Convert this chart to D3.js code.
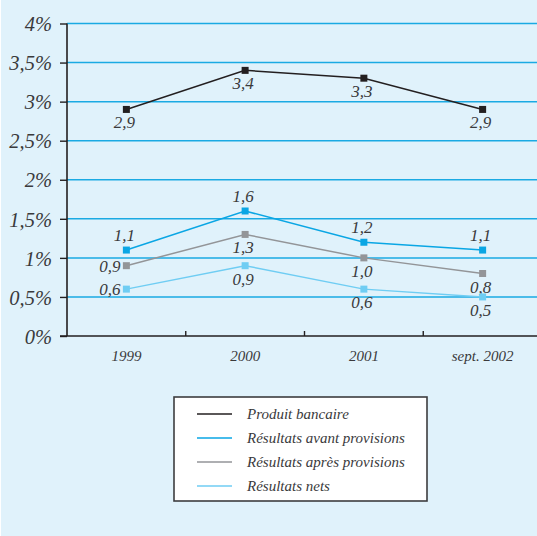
<!DOCTYPE html>
<html><head><meta charset="utf-8">
<script src="https://cdn.jsdelivr.net/npm/d3@7"></script>
<style>
html,body{margin:0;padding:0;background:#fff;}
svg{display:block;}
</style></head><body>
<svg id="c" width="537" height="536"></svg>
<script>
const categories = ["1999", "2000", "2001", "sept. 2002"];
const yTicks = [0, 0.5, 1, 1.5, 2, 2.5, 3, 3.5, 4];
const yTickLabels = ["0%", "0,5%", "1%", "1,5%", "2%", "2,5%", "3%", "3,5%", "4%"];
const produitBancaire = [2.9, 3.4, 3.3, 2.9];
const avantProvisions = [1.1, 1.6, 1.2, 1.1];
const apresProvisions = [0.9, 1.3, 1.0, 0.8];
const resultatsNets = [0.6, 0.9, 0.6, 0.5];
const seriesNames = ["Produit bancaire", "Résultats avant provisions", "Résultats après provisions", "Résultats nets"];
const seriesValues = [produitBancaire, avantProvisions, apresProvisions, resultatsNets];
const seriesColors = ["#231f20", "#0aa6e4", "#939598", "#6fcdf3"];
const labelPos = [
  ["below","below","below","below"],
  ["above","above","above","above"],
  ["left","below","below","below"],
  ["left","below","below","below"]
];

const svg = d3.select("#c");
function styleText(sel, size) {
  return sel.attr("style", "font-family:'Liberation Serif';font-style:italic;font-size:" + size + "px")
    .attr("fill", "#3a3a3c");
}
svg.append("rect").attr("x",1).attr("y",0).attr("width",536).attr("height",536).attr("fill","#e0f2fb");

const x = d3.scaleBand().domain(categories).range([67, 542]);
const y = d3.scaleLinear().domain([0, 4]).range([336, 23.5]);

svg.append("g").selectAll("line").data(yTicks.filter(d => d > 0)).join("line")
  .attr("x1", 67).attr("x2", 537)
  .attr("y1", d => y(d)).attr("y2", d => y(d))
  .attr("stroke", "#1aaae3").attr("stroke-width", 1.5);

const yAxis = d3.axisLeft(y).tickValues(yTicks).tickFormat((d,i) => yTickLabels[i]).tickSize(7).tickPadding(8);
const gy = svg.append("g").attr("transform", "translate(67,0)").call(yAxis);
gy.attr("font-family", null).attr("font-size", null);
gy.select(".domain").attr("stroke", "#231f20").attr("stroke-width", 1.6).attr("d", `M0,${y(4)}V${y(0)}`);
gy.selectAll(".tick line").attr("stroke", "#231f20").attr("stroke-width", 1.4);
styleText(gy.selectAll(".tick text"), 20.5).attr("dy", "0.35em");

const gx = svg.append("g").attr("transform", `translate(0,${y(0)})`);
gx.append("line").attr("x1", 60).attr("x2", 537).attr("y1", 0).attr("y2", 0).attr("stroke", "#231f20").attr("stroke-width", 1.6);
const bounds = categories.slice(1).map(c => x(c));
gx.selectAll("line.tk").data(bounds).join("line").attr("class","tk")
  .attr("x1", d => d).attr("x2", d => d).attr("y1", 0).attr("y2", -5)
  .attr("stroke", "#231f20").attr("stroke-width", 1.4);
styleText(gx.selectAll("text").data(categories).join("text")
  .attr("x", d => x(d) + x.bandwidth()/2).attr("y", 25)
  .attr("text-anchor", "middle"), 15).text(d => d);

const cx = c => x(c) + x.bandwidth()/2;
const line = d3.line().x((d,i) => cx(categories[i])).y(d => y(d));
seriesValues.forEach((vals, s) => {
  const g = svg.append("g");
  g.append("path").datum(vals).attr("d", line).attr("fill", "none")
    .attr("stroke", seriesColors[s]).attr("stroke-width", 1.5);
  g.selectAll("rect").data(vals).join("rect")
    .attr("x", (d,i) => cx(categories[i]) - 3.5).attr("y", d => y(d) - 3.5)
    .attr("width", 7).attr("height", 7).attr("fill", seriesColors[s]);
  styleText(g.selectAll("text").data(vals).join("text")
    .attr("x", (d,i) => labelPos[s][i] === "left" ? cx(categories[i]) - 6 : cx(categories[i]) - 2)
    .attr("y", (d,i) => {
      const p = labelPos[s][i];
      if (p === "above") return y(d) - 9;
      if (p === "below") return y(d) + 19;
      return y(d) + 6;
    })
    .attr("text-anchor", (d,i) => labelPos[s][i] === "left" ? "end" : "middle"), 17)
    .text(d => d.toFixed(1).replace(".", ","));
});

const lg = svg.append("g");
lg.append("rect").attr("x", 174).attr("y", 397).attr("width", 253).attr("height", 104)
  .attr("fill", "#ffffff").attr("stroke", "#3d3d3f").attr("stroke-width", 1.6);
seriesNames.forEach((n, i) => {
  const yy = 414 + i * 24;
  lg.append("line").attr("x1", 197).attr("x2", 232).attr("y1", yy).attr("y2", yy)
    .attr("stroke", seriesColors[i]).attr("stroke-width", 1.5);
  styleText(lg.append("text").attr("x", 247).attr("y", yy + 4.5), 15).text(n);
});
</script>
</body></html>
